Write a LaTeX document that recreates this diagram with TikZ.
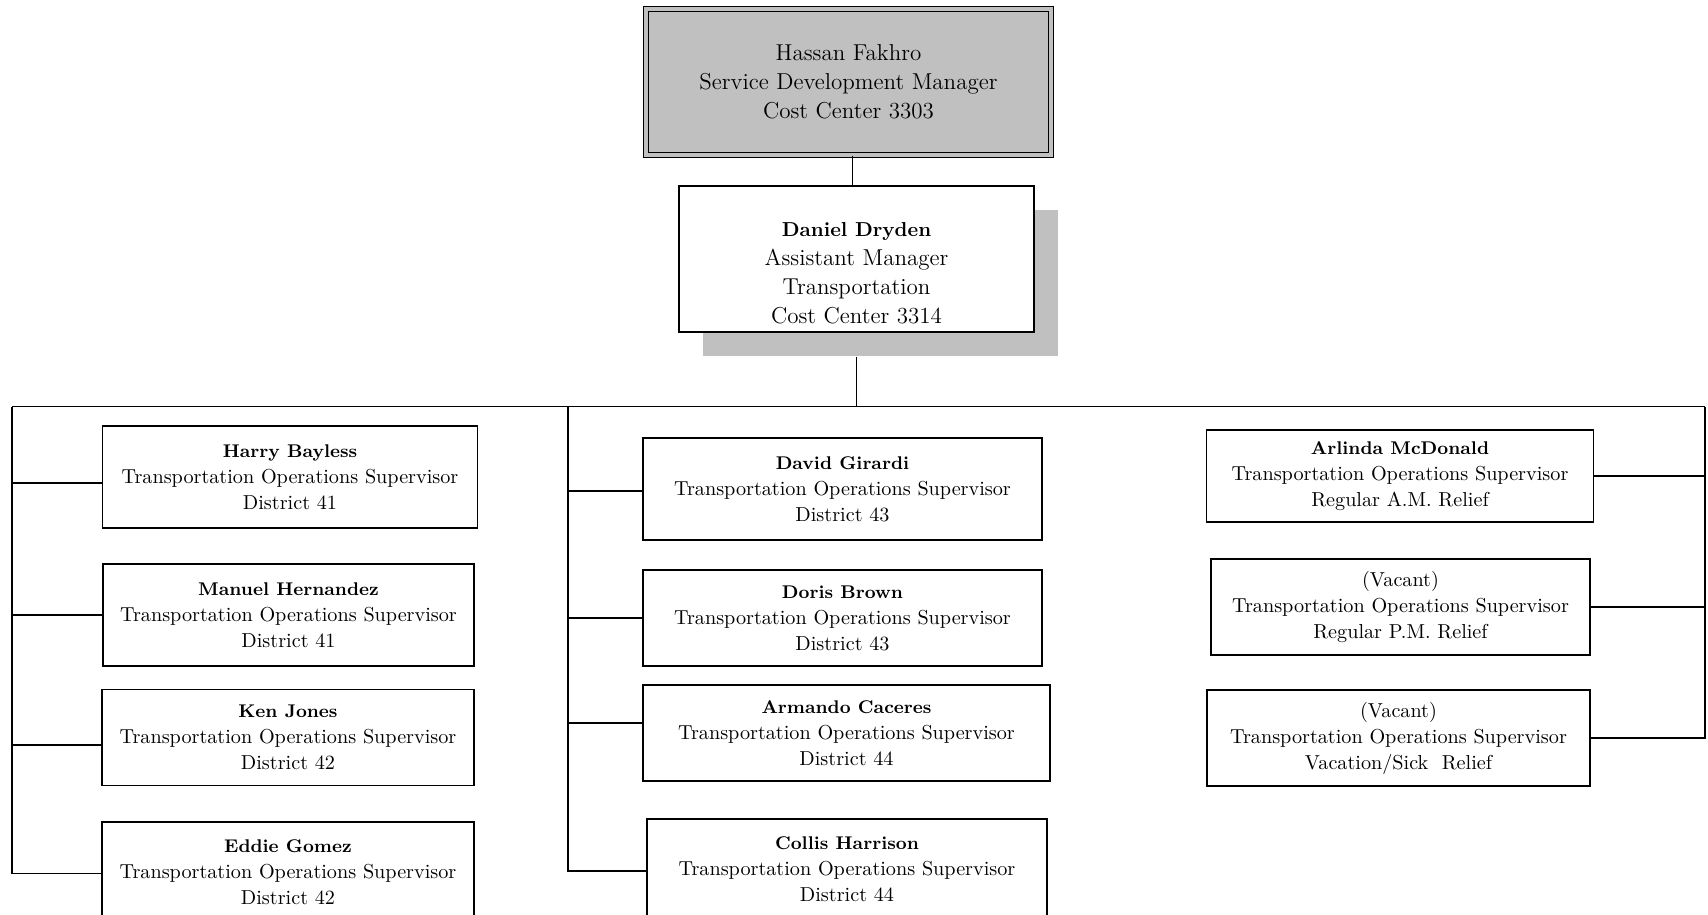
\documentclass[tikz,border=0pt]{standalone}
\usepackage{tikz}
\usetikzlibrary{positioning,shadows,calc}
\definecolor{mSilver}{HTML}{C0C0C0}
\newcommand{\pname}[1]{{\fontsize{9.2}{13}\selectfont\bfseries #1}}
\newcommand{\bigname}[1]{{\fontsize{10.1}{14.5}\selectfont\bfseries #1}}

\begin{document}
\begin{tikzpicture}[x=0.5pt,y=-0.5pt,
  box/.style={draw,line width=0.7pt,fill=white,align=center,inner sep=0pt,font=\fontsize{10.1}{13}\selectfont},
  head/.style={box,font=\fontsize{11.5}{14.5}\selectfont},
  sz/.style 2 args={minimum width=#1*0.5pt,minimum height=#2*0.5pt},
  link/.style={line width=0.7pt}
]
\useasboundingbox (0,0) rectangle (1708,915);

% managers
\node[head,sz={405}{146},fill=mSilver,double=mSilver,double distance=1.7pt] (top) at (848.5,82)
  {Hassan Fakhro\\Service Development Manager\\Cost Center 3303};
\node[head,sz={355}{146},general shadow={fill=mSilver,shadow xshift=12pt,shadow yshift=-12pt}] (dd) at (856.5,259)
  {\rule{0pt}{21pt}\bigname{Daniel Dryden}\\Assistant Manager\\Transportation\\Cost Center 3314};

% supervisors, left
\node[box,sz={375}{102}] (hb) at (290,477) {\pname{Harry Bayless}\\Transportation Operations Supervisor\\District 41};
\node[box,sz={371}{102}] (mh) at (288.5,615) {\pname{Manuel Hernandez}\\Transportation Operations Supervisor\\District 41};
\node[box,sz={372}{96}] (kj) at (288,737.5) {\pname{Ken Jones}\\Transportation Operations Supervisor\\District 42};
\node[box,sz={372}{100}] (eg) at (288,872) {\pname{Eddie Gomez}\\Transportation Operations Supervisor\\District 42};

% supervisors, middle
\node[box,sz={399}{102}] (dg) at (842.5,489) {\pname{David Girardi}\\Transportation Operations Supervisor\\District 43};
\node[box,sz={399}{96}] (db) at (842.5,618) {\pname{Doris Brown}\\Transportation Operations Supervisor\\District 43};
\node[box,sz={407}{96}] (ac) at (846.5,733) {\pname{Armando Caceres}\\Transportation Operations Supervisor\\District 44};
\node[box,sz={400}{100}] (ch) at (847,869) {\pname{Collis Harrison}\\Transportation Operations Supervisor\\District 44};

% relief, right
\node[box,sz={387}{92}] (am) at (1400,476) {\pname{Arlinda McDonald}\\Transportation Operations Supervisor\\Regular A.M. Relief};
\node[box,sz={379}{96}] (v1) at (1400.5,607) {(Vacant)\\Transportation Operations Supervisor\\Regular P.M. Relief};
\node[box,sz={383}{96}] (v2) at (1398.5,738) {(Vacant)\\Transportation Operations Supervisor\\Vacation/Sick~ Relief};

% bus
\coordinate (busL) at (12,406.7);
\coordinate (busR) at (1705,406.7);
\coordinate (busM) at (568,406.7);
\draw[link] ([xshift=2pt]top.south) -- ([xshift=2pt]top.south |- dd.north);
\draw[link] ([yshift=-12pt]dd.south) -- (dd.south |- busL);
\draw[link] (busL) -- (busR);

\draw[link] (busL) |- ([yshift=-0.75pt]eg.west);
\draw[link] ([yshift=-3pt]hb.west) -- ([yshift=-3pt]hb.west -| busL);
\draw[link] (mh.west) -- (mh.west -| busL);
\draw[link] ([yshift=-3.75pt]kj.west) -- ([yshift=-3.75pt]kj.west -| busL);

\draw[link] (busM) |- ([yshift=-1pt]ch.west);
\draw[link] ([yshift=-1pt]dg.west) -- ([yshift=-1pt]dg.west -| busM);
\draw[link] (db.west) -- (db.west -| busM);
\draw[link] ([yshift=5pt]ac.west) -- ([yshift=5pt]ac.west -| busM);

\draw[link] (busR) |- (v2.east);
\draw[link] (am.east) -- (am.east -| busR);
\draw[link] (v1.east) -- (v1.east -| busR);
\end{tikzpicture}
\end{document}
